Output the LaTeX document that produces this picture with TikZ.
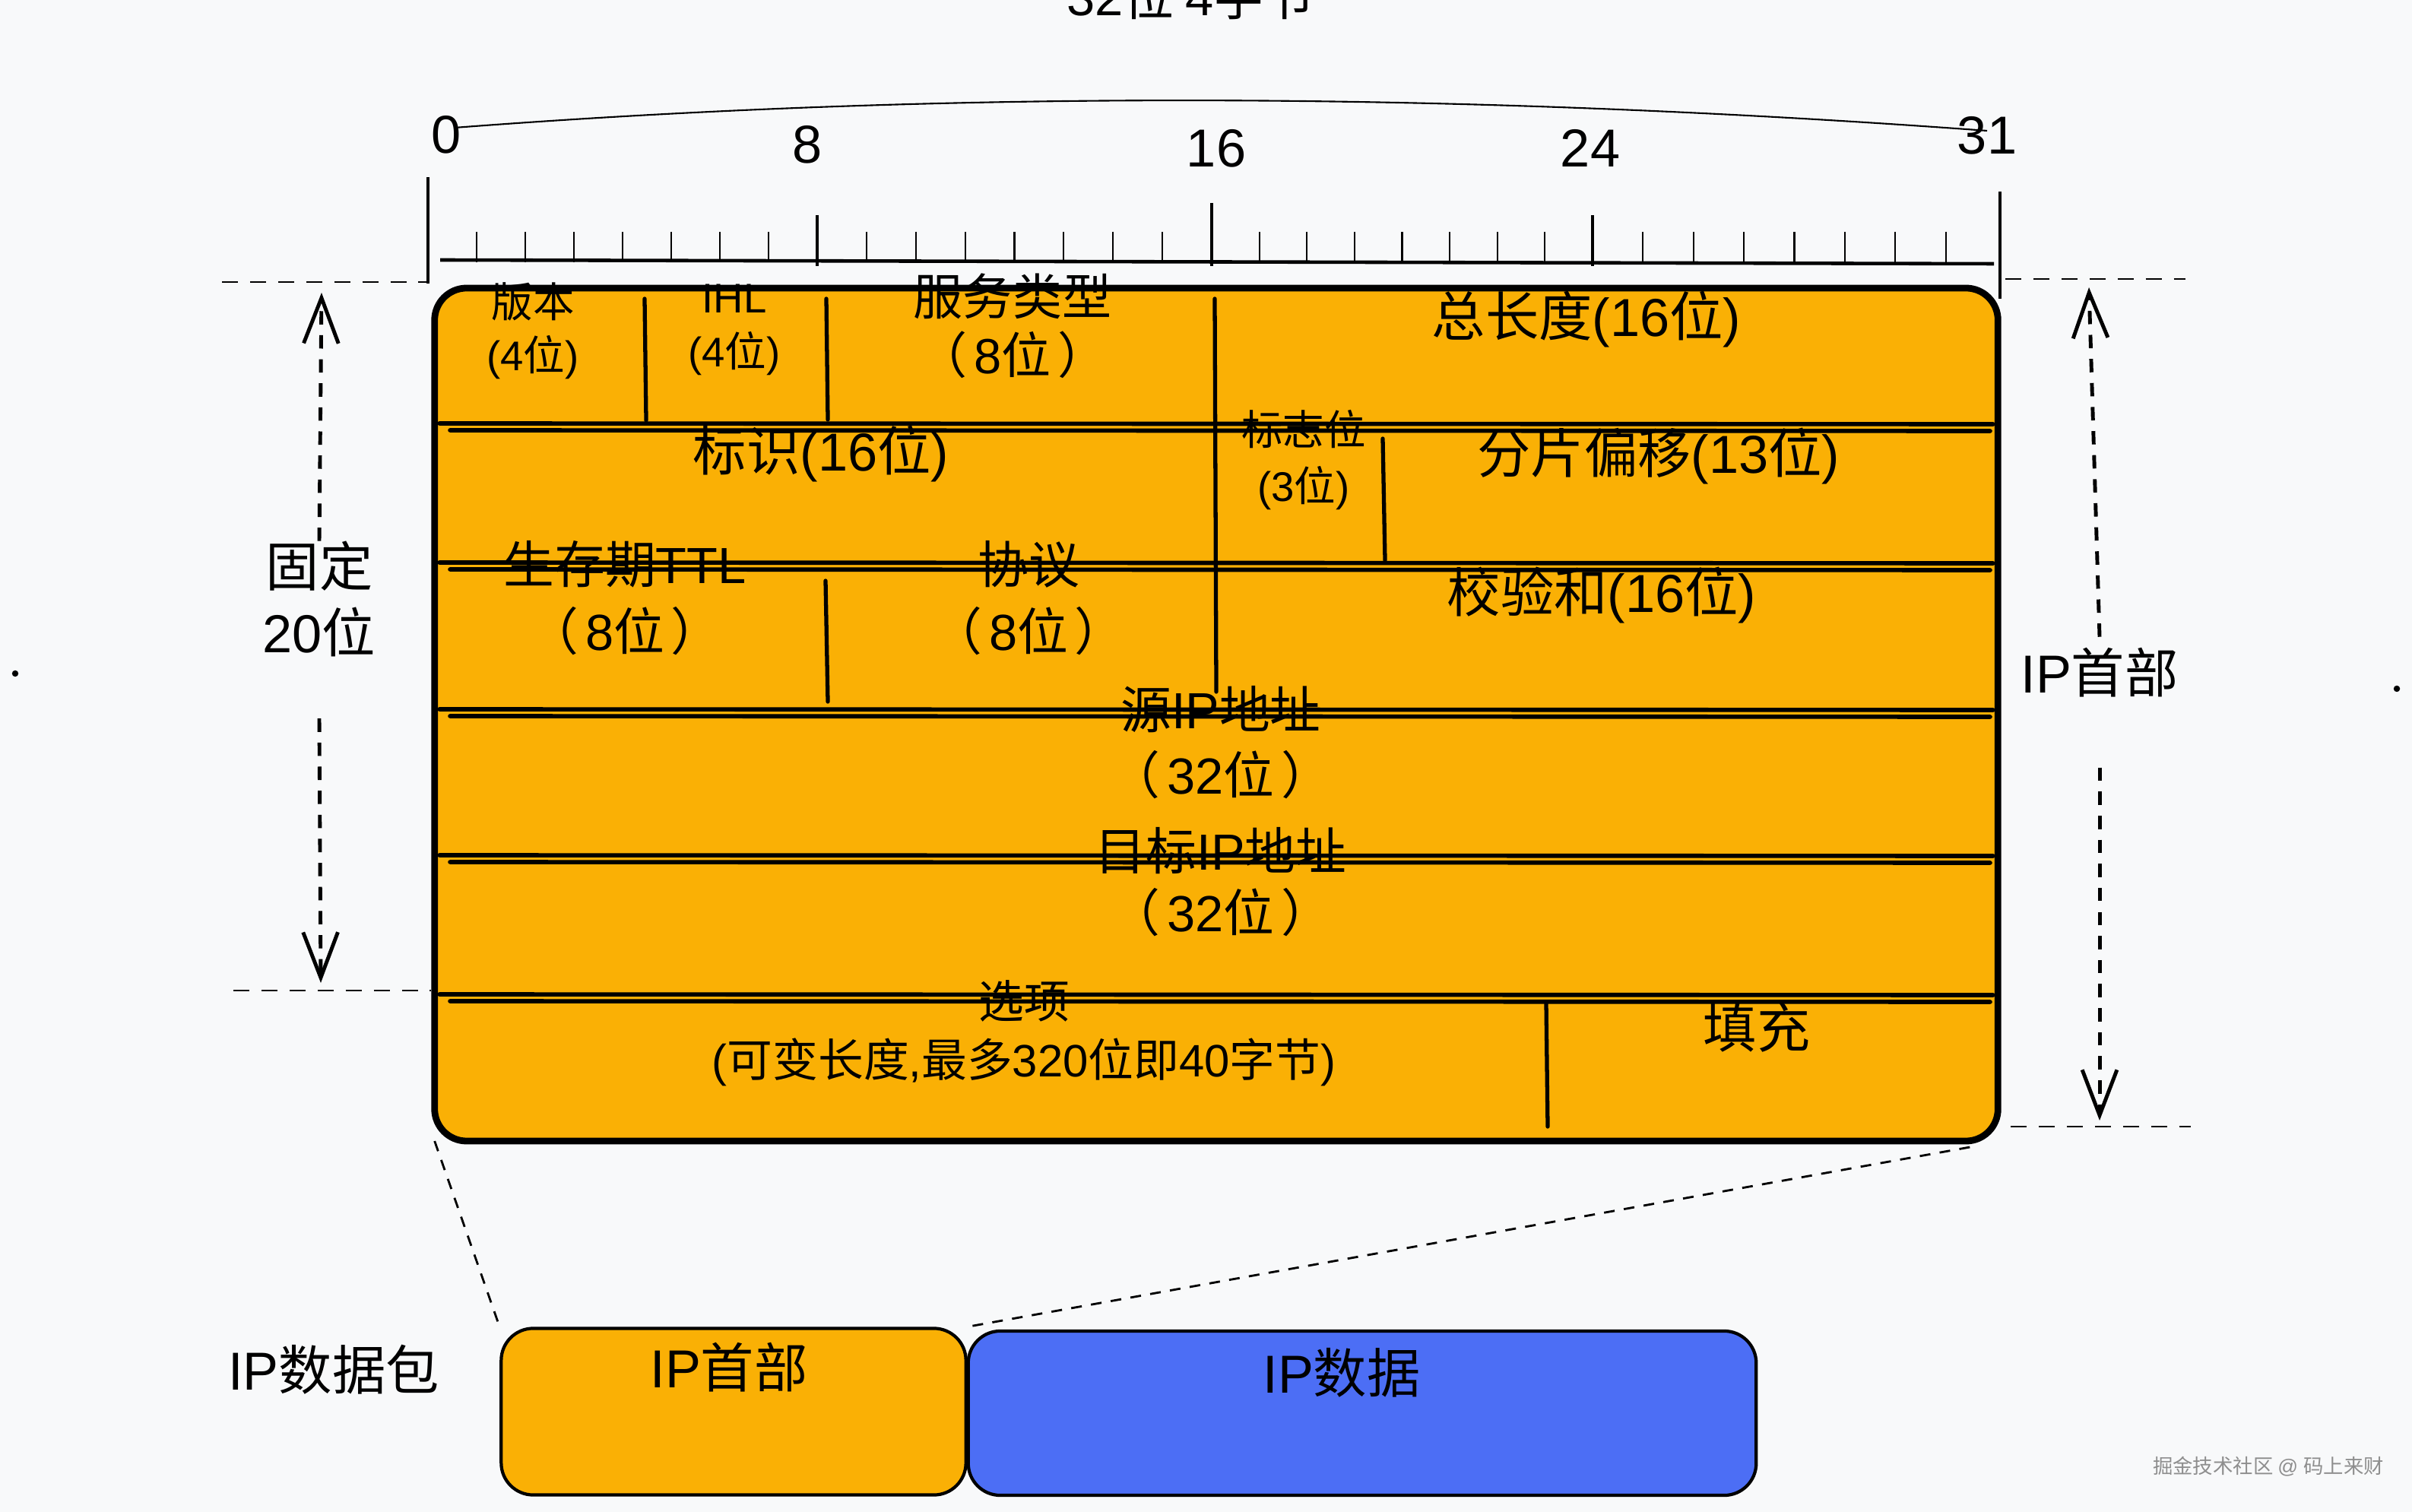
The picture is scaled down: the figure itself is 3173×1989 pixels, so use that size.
\documentclass[tikz,border=0pt]{standalone}
\usepackage{fontspec}
\setmainfont{Liberation Sans}
\newfontfamily\cjk[RawFeature=+palt]{Noto Sans CJK SC}
% switch to the CJK family for CJK characters, back for Latin ones
\XeTeXinterchartokenstate=1
\newXeTeXintercharclass\cjkcls
\newcount\cjkcnt
\cjkcnt="3000
\loop
  \XeTeXcharclass\cjkcnt=\cjkcls
  \advance\cjkcnt by 1
\ifnum\cjkcnt<"A000 \repeat
\cjkcnt="FF00
\loop
  \XeTeXcharclass\cjkcnt=\cjkcls
  \advance\cjkcnt by 1
\ifnum\cjkcnt<"FFF0 \repeat
\XeTeXinterchartoks 0 \cjkcls = {\cjk}
\XeTeXinterchartoks 4095 \cjkcls = {\cjk}
\XeTeXinterchartoks \cjkcls 0 = {\rmfamily}
\XeTeXinterchartoks 4095 0 = {\rmfamily}
\usetikzlibrary{arrows.meta, calc}
\definecolor{hdryellow}{HTML}{FAB005}
\definecolor{datablue}{HTML}{4C6EF5}
\definecolor{bggray}{HTML}{F8F9FA}
\definecolor{wmgray}{HTML}{8E8E8E}

\begin{document}
\begin{tikzpicture}[
  x=0.01cm, y=-0.01cm,
  >={Straight Barb[length=17pt, width=13pt]},
  hdrbox/.style={fill=hdryellow, rounded corners=12pt, minimum width=20.54cm,
    minimum height=11.2cm, inner sep=0pt},
  hdrborder/.style={draw=black, line width=2.5pt, rounded corners=12pt},
  rowline/.style={black, line width=1.6pt, line cap=round},
  colline/.style={black, line width=1.5pt, line cap=round},
  tickline/.style={black, line width=0.6pt},
  rulerline/.style={black, line width=1.3pt},
  guide/.style={black, line width=0.8pt, dash pattern=on 6pt off 4.5pt},
  dimline/.style={black, line width=1.4pt, dash pattern=on 5pt off 4pt},
  funnel/.style={black, line width=0.8pt, dash pattern=on 4pt off 3.5pt},
  pktbox/.style={draw=black, line width=1.2pt, rounded corners=12pt, inner sep=0pt},
  fld/.style 2 args={font=\fontsize{#1}{#2}\selectfont, align=center, inner sep=0pt},
]

% Background
\useasboundingbox (0,0) rectangle (3173,1989);
\fill[bggray] (0,0) rectangle (3173,1989);
\fill (20,886) circle (1.2pt);
\fill (3153,906) circle (1.2pt);

% =============================================
% Ruler: 32 bits
% =============================================
\node[fld={19}{23}] (title) at (1567,-5) {32位 4字节};
\draw[tickline] (598,168) .. controls (1238,119) and (1910,120) .. (2614,172);
\foreach \n/\x/\y in {0/587/177, 8/1062/190, 16/1600/195, 24/2092/195, 31/2614/178}
  \node[fld={20}{24}] (bit\n) at (\x,\y) {\n};

\draw[rulerline] (579,342) -- (2623,347);
\draw[tickline, line width=1pt] (563,233) -- (563,373);
\draw[tickline, line width=1pt] (2631,252) -- (2631,393);
% one byte at a time
\foreach \a/\b in {563/1075, 1075/1594, 1594/2095, 2095/2626}
  \foreach \j in {1,...,7}
    \draw[tickline] ({\a+(\b-\a)*\j/8},305) -- ({\a+(\b-\a)*\j/8},345);
\foreach \x/\t in {1075/283, 1594/267, 2095/283}
  \draw[tickline, line width=0.9pt] (\x,\t) -- (\x,350);

% =============================================
% Header fields
% =============================================
\node[hdrbox] (hdr) at (1600,940) {};

\node[fld={15.5}{20}] (ver) at (701,435) {版本\\(4位)};
\node[fld={15.5}{20}] (ihl) at (966,434) {IHL\\(4位)};
\node[fld={18.5}{22}] (tos) at (1332,429) {服务类型\\（\,8位\,）};
\node[fld={20}{24}] (totlen) at (2087,420) {总长度(16位)};

\node[fld={20}{24}] (ident) at (1080,597) {标识(16位)};
\node[fld={15.5}{21}] (flags) at (1715,605) {标志位\\(3位)};
\node[fld={20}{24}] (fragoff) at (2182,600) {分片偏移(13位)};

\node[fld={19}{25}] (ttl) at (822,787) {生存期TTL\\（\,8位\,）};
\node[fld={19}{25}] (proto) at (1353,787) {协议\\（\,8位\,）};
\node[fld={20}{24}] (chksum) at (2107,783) {校验和(16位)};

\node[fld={19}{24.5}] (srcip) at (1606,977) {源IP地址\\（\,32位\,）};
\node[fld={19}{23}] (dstip) at (1606,1160) {目标IP地址\\（\,32位\,）};

\node[fld={17}{22}] (opts) at (1347,1359) {选项\\(可变长度,最多320位即40字节)};
\node[fld={20}{24}] (pad) at (2311,1352) {填充};

% column dividers
\draw[colline] (848,393) -- (850,553);
\draw[colline] (1087,393) -- (1089,552);
\draw[colline] (1598,393) -- (1600,910);
\draw[colline] (1819,577) -- (1822,737);
\draw[colline] (1086,764) -- (1089,923);
\draw[colline] (2034,1320) -- (2036,1482);

% row dividers (sketchy double stroke)
\foreach \y in {562,745,938,1130,1313} {
  \draw[rowline] (578,\y-5) -- (2622,\y-4);
  \draw[rowline] (592,\y+4) -- (2618,\y+5);
}

\draw[hdrborder] (hdr.north west) rectangle (hdr.south east);

% =============================================
% Dimensions
% =============================================
\draw[guide] (292,371) -- (563,371);
\draw[guide] (307,1303) -- (567,1303);
\coordinate (fixtop) at (423,385);
\coordinate (fixbot) at (422,1293);
\node[fld={20}{24.5}] (fixlbl) at (420,788) {固定\\20位};
\draw[dimline, ->] (fixlbl.north) -- (fixtop);
\draw[dimline, ->] ([yshift=-23pt]fixlbl.south) -- (fixbot);

\draw[guide] (2638,367) -- (2875,367);
\draw[guide] (2645,1482) -- (2882,1482);
\coordinate (hlentop) at (2748,378);
\coordinate (hlenbot) at (2762,1474);
\node[fld={20}{24}] (hdrlbl) at (2762,885) {IP首部};
\draw[dimline, ->] ([yshift=4pt]hdrlbl.north) -- (hlentop);
\draw[dimline, ->] ([yshift=-26pt]hdrlbl.south) -- (hlenbot);

% =============================================
% Bottom: IP packet
% =============================================
\node[pktbox, fill=hdryellow, minimum width=6.11cm, minimum height=2.19cm]
  (pkthdr) at (965,1857) {};
\node[pktbox, fill=datablue, minimum width=10.36cm, minimum height=2.16cm]
  (pktdata) at (1792,1859) {};
\node[fld={20}{24}] (pkthdrtxt) at (959,1799) {IP首部};
\node[fld={20}{24}] (pktdatatxt) at (1765,1806) {IP数据};
\node[fld={20}{24}] (pktlbl) at (439,1802) {IP数据包};

\draw[funnel] (hdr.south west) -- (pkthdr.north west);
\draw[funnel] ($(hdr.south east)+(-37,8)$) -- (pkthdr.north east);

% watermark
\node[font=\fontsize{7.5}{9}\selectfont, text=wmgray] (wmark) at (2984,1929)
  {掘金技术社区 @ 码上来财};

\end{tikzpicture}
\end{document}
